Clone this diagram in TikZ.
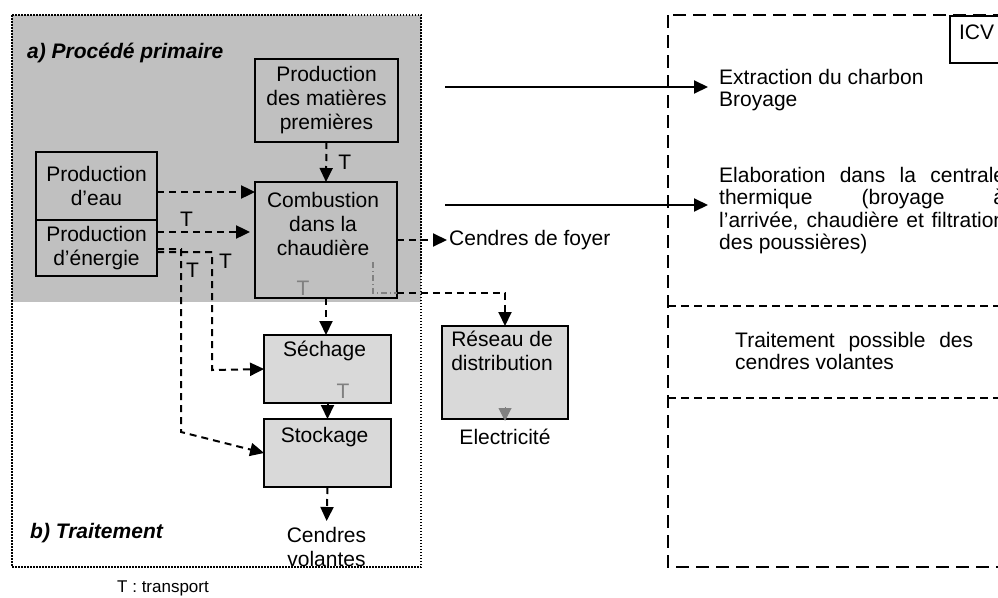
\documentclass[tikz,border=0pt]{standalone}
\usepackage{fontspec}
\setmainfont{Liberation Sans}
\usepackage{tikz}
\usetikzlibrary{positioning, arrows.meta, calc}

\definecolor{primgray}{RGB}{192,192,192}
\definecolor{treatgray}{RGB}{217,217,217}
\definecolor{markgray}{RGB}{128,128,128}

\begin{document}
\begin{tikzpicture}[
    x=1pt, y=-1pt,
    % Process boxes (thick black border, same grey as the background)
    procbox/.style={
        draw=black,
        line width=2.8pt,
        outer sep=0pt,
        inner sep=0pt,
        align=center,
        font=\fontsize{21}{24}\selectfont
    },
    % Treatment boxes (lighter grey fill)
    treatbox/.style={
        procbox,
        fill=treatgray
    },
    % Loose text next to the boxes
    plaintext/.style={
        align=center,
        inner sep=2pt,
        font=\fontsize{21}{24}\selectfont
    },
    % Text of the inventory frame on the right
    sidetext/.style={
        inner sep=0pt,
        font=\fontsize{21}{22.5}\selectfont
    },
    titletext/.style={
        inner sep=0pt,
        font=\fontsize{21}{24}\selectfont\bfseries\itshape
    },
    tlabel/.style={
        inner sep=1pt,
        font=\fontsize{21}{24}\selectfont
    },
    icvbox/.style={
        draw=black,
        line width=2pt,
        inner xsep=9pt,
        inner ysep=0pt,
        text height=23pt,
        text depth=24pt,
        font=\fontsize{21}{24}\selectfont
    },
    % Dashed transport arrows and plain arrows
    flow/.style={
        draw=black,
        line width=2pt,
        dash pattern=on 7pt off 5pt,
        -{Triangle[length=14pt,width=13pt]}
    },
    solidarrow/.style={
        draw=black,
        line width=2pt,
        -{Triangle[length=14pt,width=13pt]}
    },
    grayflow/.style={
        draw=markgray,
        line width=1.2pt,
        dash pattern=on 6pt off 3pt on 1pt off 3pt
    }
]

\useasboundingbox (0,0) rectangle (998,597);

% --- FRAMES: primary process / treatment and inventory ---
\fill[primgray] (12,15) rectangle (421,302);
\draw[line width=1.5pt, dash pattern=on 1.5pt off 1.5pt] (12,15) rectangle (421,567);

\draw[line width=1.8pt, dash pattern=on 13pt off 7pt] (668,15) rectangle (1015,567);
\draw[line width=1.8pt, dash pattern=on 8pt off 5pt] (668,306) -- (1015,306);
\draw[line width=1.8pt, dash pattern=on 8pt off 5pt] (668,398) -- (1015,398);

\node[icvbox, anchor=north west] (icv) at (949,15) {ICV};

\node[titletext, anchor=base west] (primaire) at (27,58) {a) Procédé primaire};
\node[titletext, anchor=base west] (traitement) at (30,538) {b) Traitement};


% --- PRIMARY PROCESS ---
\node[procbox, minimum width=143pt, minimum height=83pt] (matieres) at (326.5,100.5) {
    Production\\des matières\\premières
};

\node[procbox, minimum width=121pt, minimum height=68pt] (eau) at (96.5,186) {
    Production\\d’eau
};

\node[procbox, minimum width=121pt, minimum height=56pt, below=0pt of eau] (energie) {
    Production\\d’énergie
};

\node[procbox, minimum width=136pt, minimum height=116pt] (comb) at (326,240) {
    \parbox[c][96pt][t]{136pt}{\centering Combustion\\dans la\\chaudière}
};

\node[tlabel, text=markgray] (combT) at (303,288) {T};

\node[plaintext, anchor=west] (foyer) at (447,240) {Cendres de foyer};


% --- TREATMENT ---
\node[treatbox, minimum width=121pt, minimum height=68pt] (sechage) at (327.5,369) {
    \parbox[c][55pt][t]{121pt}{\centering Séchage}
};
\node[tlabel, text=markgray] (sechT) at (343,391) {T};

\node[treatbox, minimum width=121pt, minimum height=68pt, below=16pt of sechage] (stockage) {
    \parbox[c][52pt][t]{121pt}{\centering Stockage}
};

\node[plaintext, anchor=north, inner sep=1pt] (volantes) at (326.5,526) {Cendres\\volantes};

\node[treatbox, minimum width=120pt, minimum height=93pt] (reseau) at (505,372.5) {
    \parbox[c][83pt][t]{120pt}{\centering Réseau de\\distribution}
};
\node[plaintext, anchor=base] (elec) at (505,444) {Electricité};

\node[anchor=base west, inner sep=0pt, font=\fontsize{17}{20}\selectfont] (legend) at (117,592) {T : transport};


% --- INVENTORY TEXT ---
\node[sidetext, anchor=north west, align=left] (extraction) at (719,69) {
    Extraction du charbon\\Broyage
};

\node[sidetext, anchor=north west, text width=286pt, align=justify] (elaboration) at (719,167) {
    Elaboration dans la centrale\linebreak thermique (broyage à\linebreak
    l’arrivée, chaudière et filtration\linebreak des poussières)
};

\node[sidetext, anchor=north west, text width=238pt, align=justify] (possible) at (735,332) {
    Traitement possible des\linebreak cendres volantes
};


% --- CONNECTORS ---
\draw[flow] (matieres.south) -- (comb.north) node[midway, right=10pt, tlabel] {T};
\draw[flow] ([yshift=-6pt]eau.east) -- ([yshift=-6pt]eau.east -| comb.west);
\draw[flow, shorten >=5pt] ([yshift=16pt]energie.east) -- ([yshift=16pt]energie.east -| comb.west)
    node[pos=0.3, above=4pt, tlabel] {T};

\coordinate (bendA) at (181,432);
\coordinate (bendB) at (212,370);
\draw[flow] ([yshift=-1pt]energie.east) -| (bendA) node[pos=0.557, right=3pt, tlabel] {T}
    -- (stockage.west);
\draw[flow] ([yshift=-4pt]energie.east) -| (bendB) node[pos=0.5, anchor=north west, xshift=5pt, tlabel] {T}
    -- (sechage.west);

\draw[flow] (comb.south) -- (comb.south |- sechage.north);
\draw[solidarrow] (sechage.south) -- (stockage.north);
\draw[flow, shorten >=5pt] (stockage.south) -- (volantes.north);

\draw[flow] (comb.east) -- (foyer.west);

\coordinate (grayStart) at (373,262);
\draw[grayflow] (grayStart) |- ([yshift=5pt]comb.south east);
\draw[flow] ([yshift=5pt]comb.south east) -| (reseau.north);
\draw[markgray, line width=1pt, -{Triangle[length=13pt,width=13pt]}] ([yshift=12pt]reseau.south) -- ([yshift=-2pt]reseau.south);

\coordinate (srcA) at (445,87);
\coordinate (srcB) at (445,205);
\draw[solidarrow, shorten >=11pt] (srcA) -- (srcA -| extraction.west);
\draw[solidarrow, shorten >=11pt] (srcB) -- (srcB -| elaboration.west);

\end{tikzpicture}
\end{document}
